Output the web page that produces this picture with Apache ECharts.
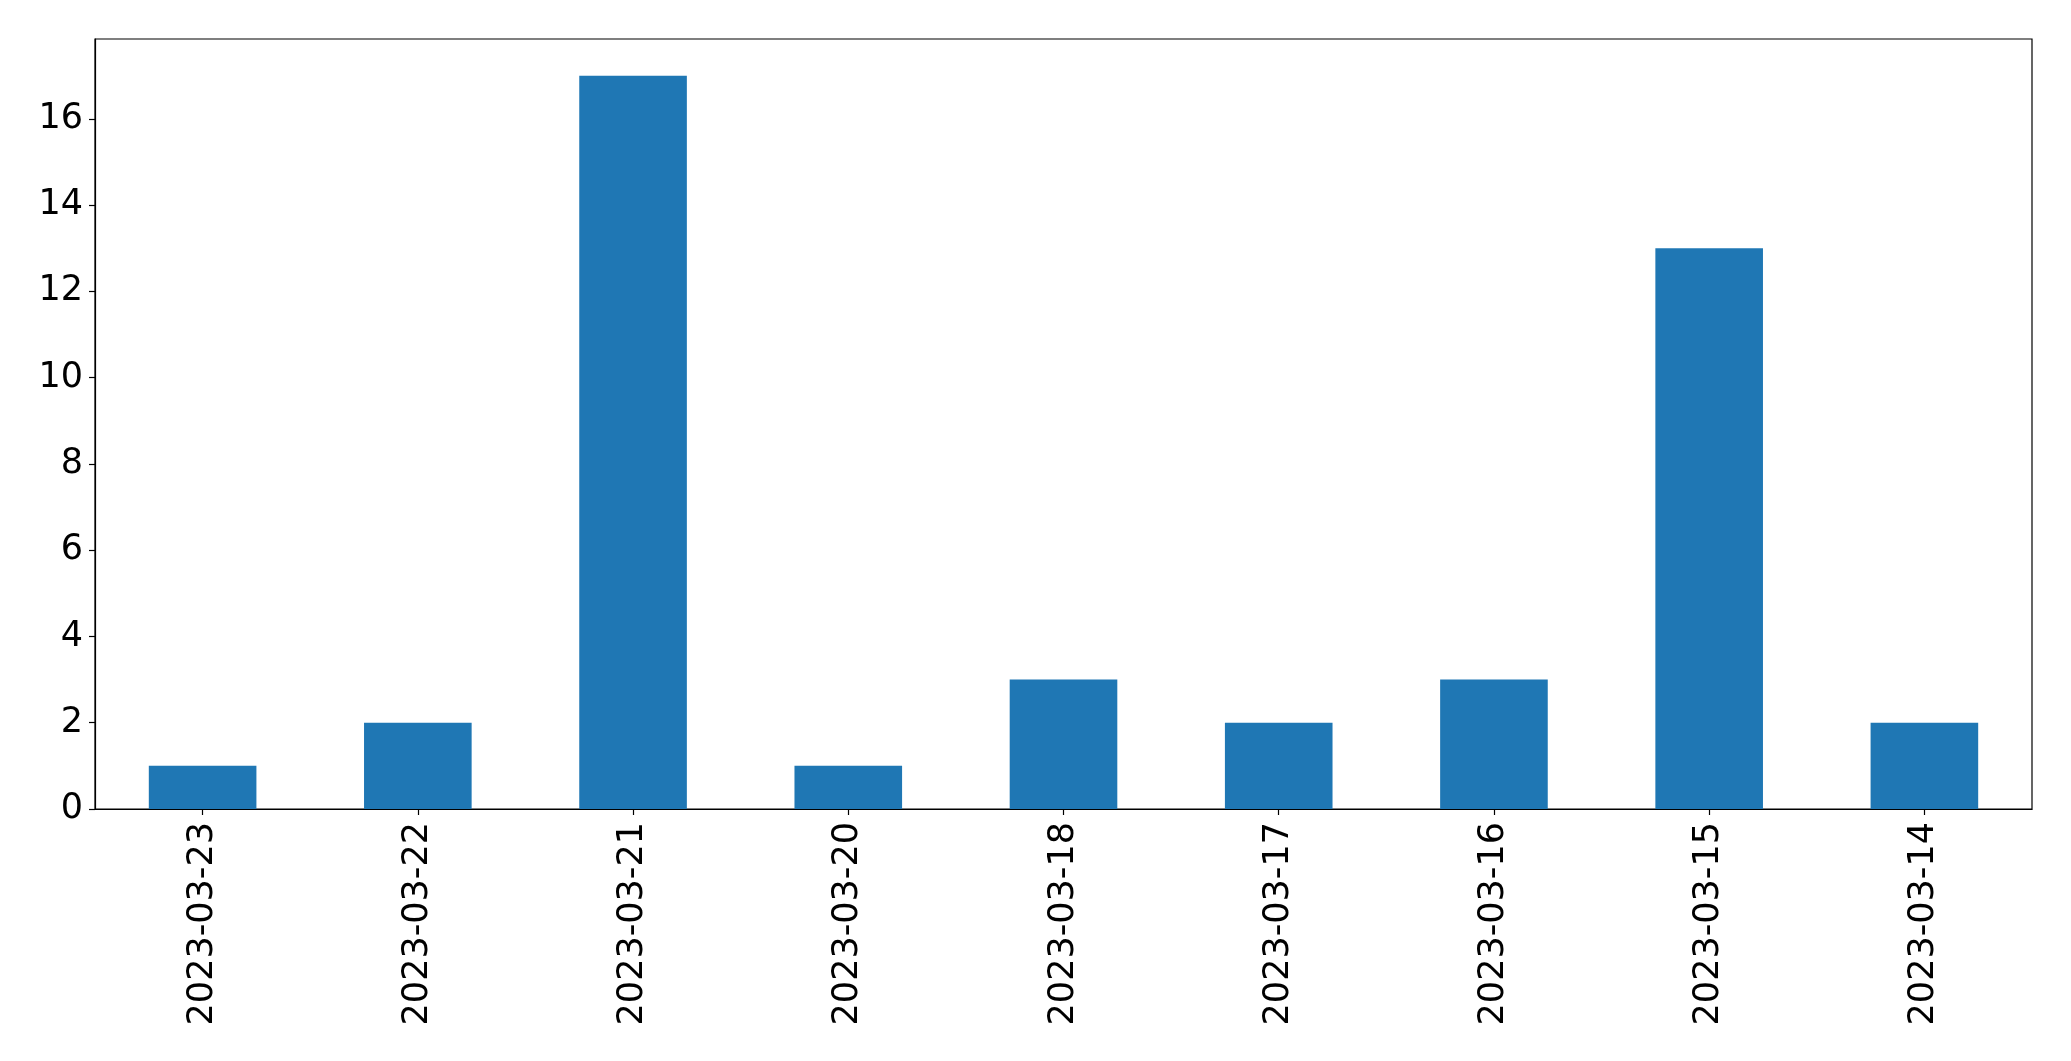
<!DOCTYPE html>
<html>
<head>
<meta charset="utf-8">
<script src="https://cdn.jsdelivr.net/npm/echarts@6/dist/echarts.min.js"></script>
<style>
html,body{margin:0;padding:0;background:#fff;}
#chart{width:2071px;height:1061px;}
</style>
</head>
<body>
<div id="chart"></div>
<script>
const categories = ['2023-03-23','2023-03-22','2023-03-21','2023-03-20','2023-03-18','2023-03-17','2023-03-16','2023-03-15','2023-03-14'];
const values = [1, 2, 17, 1, 3, 2, 3, 13, 2];
const yTicks = [0, 2, 4, 6, 8, 10, 12, 14, 16];
const yMax = 17.85;

const chart = echarts.init(document.getElementById('chart'), null, {renderer: 'canvas'});
const font = 'DejaVu Sans';
chart.setOption({
  animation: false,
  backgroundColor: '#ffffff',
  grid: {
    left: 95, right: 39, top: 39, bottom: 252,
    show: true, borderColor: '#000', borderWidth: 1.2, backgroundColor: 'transparent'
  },
  xAxis: {
    type: 'category',
    data: categories,
    boundaryGap: true,
    axisLine: {show: true, lineStyle: {color: '#000', width: 1.2}},
    axisTick: {show: true, alignWithLabel: true, length: 6, lineStyle: {color: '#000', width: 1.2}},
    axisLabel: {rotate: 90, margin: 13, color: '#000', fontFamily: font, fontSize: 35, interval: 0},
    splitLine: {show: false}
  },
  yAxis: {
    type: 'value',
    min: 0, max: yMax,
    axisLine: {show: true, lineStyle: {color: '#000', width: 1.2}},
    axisTick: {show: true, length: 6, customValues: yTicks, lineStyle: {color: '#000', width: 1.2}},
    axisLabel: {margin: 12, color: '#000', fontFamily: font, fontSize: 35, customValues: yTicks},
    splitLine: {show: false}
  },
  series: [{
    type: 'bar',
    data: values,
    barWidth: '50%',
    itemStyle: {color: '#1f77b4'}
  }]
});
</script>
</body>
</html>
